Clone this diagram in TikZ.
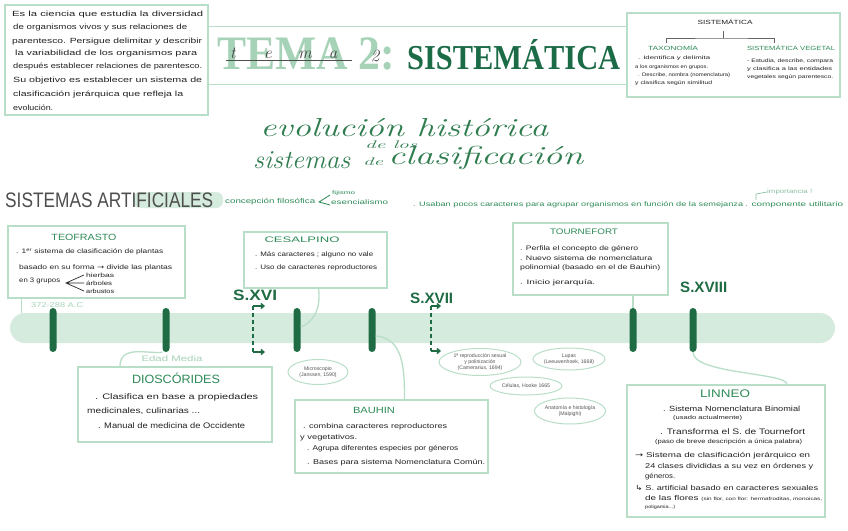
\documentclass[tikz,border=0pt]{standalone}
\usepackage{fontspec}
\usepackage{graphicx}
\setsansfont{Liberation Sans}
\newfontfamily\serifb{Liberation Serif}
\newfontfamily\dejavu{DejaVu Sans}
\usetikzlibrary{shapes.geometric,arrows.meta}
\definecolor{boxc}{HTML}{B9DEC8}
\definecolor{bandc}{HTML}{D5EBDD}
\definecolor{tickc}{HTML}{1F6B43}
\definecolor{headg}{HTML}{2E8B57}
\definecolor{titleg}{HTML}{1B6B47}
\definecolor{paleg}{HTML}{A6D3B8}
\definecolor{cursg}{HTML}{2F7D4F}
\definecolor{ink}{HTML}{222222}
\definecolor{ovtxt}{HTML}{555555}
\newcommand\hwl[3]{\resizebox{#1pt}{\height}{\fontsize{#2}{#2}\selectfont #3}}
\newcounter{lnc}
\newcommand\tline[6][txt]{\stepcounter{lnc}\node[#1] (L\thelnc) at (#2,#3) {\hwl{#4}{#5}{#6}};}
\begin{document}
\begin{tikzpicture}[x=1pt,y=-1pt,
  box/.style={draw=boxc,line width=1.3pt,rectangle,inner sep=0},
  txt/.style={anchor=west,inner sep=0,text=ink,font=\sffamily},
  gtxt/.style={anchor=west,inner sep=0,text=headg,font=\sffamily},
  ptxt/.style={anchor=west,inner sep=0,text=paleg,font=\sffamily},
  head/.style={anchor=center,inner sep=0,text=headg,font=\sffamily},
  cent/.style={anchor=west,inner sep=0,text=tickc,font=\sffamily\bfseries},
  curs/.style={anchor=west,inner sep=0,text=cursg,font=\itshape},
  tick/.style={fill=tickc,rounded corners=3.5pt,minimum width=7pt,minimum height=44pt,inner sep=0},
  conn/.style={draw=boxc,line width=1.3pt},
  oval/.style={ellipse,draw=boxc,line width=1pt,inner sep=0,align=center,text=ovtxt,font=\sffamily\fontsize{5.2}{6}\selectfont},
  dashbr/.style={draw=tickc,line width=1.6pt,dash pattern=on 4pt off 3pt},
  brarr/.style={draw=tickc,line width=1.4pt,-{Straight Barb[length=3pt,width=5pt]}}
]
\useasboundingbox (0,0) rectangle (848,530);
\fill[white] (0,0) rectangle (848,530);

% ---------- intro box
\node[box,minimum width=203pt,minimum height=110pt] (intro) at (106.5,60) {};
\tline{12}{15}{191}{7.5}{Es la ciencia que estudia la diversidad}
\tline{13}{28}{174}{7.5}{de organismos vivos y sus relaciones de}
\tline{12}{42}{190}{7.5}{parentesco. Persigue delimitar y describir}
\tline{15}{54}{182}{7.5}{la variabilidad de los organismos para}
\tline{13}{67}{189}{7.5}{después establecer relaciones de parentesco.}
\tline{13}{81}{189}{7.5}{Su objetivo es establecer un sistema de}
\tline{13}{95}{170}{7.5}{clasificación jerárquica que refleja la}
\tline{13}{108}{40}{7.5}{evolución.}

% ---------- title band
\node[minimum width=419pt,minimum height=57pt,inner sep=0] (tband) at (417.5,55.5) {};
\draw[conn,line width=0.9pt] (tband.north west) -- (tband.north east);
\draw[conn,line width=0.9pt] (tband.south west) -- (tband.south east);
\node[anchor=west,inner sep=0,text=paleg,font=\serifb\bfseries] (tema) at (217,54) {\resizebox{178pt}{\height}{\fontsize{48}{48}\selectfont TEMA 2:}};
\node[anchor=west,inner sep=0,text=titleg,font=\serifb\bfseries] (sistt) at (407,55) {\resizebox{213pt}{\height}{\fontsize{35}{35}\selectfont SISTEMÁTICA}};
\draw[ink!80,line width=0.7pt] (226,60) -- (352,60);
\node[inner sep=0,text=ink!85,font=\itshape\fontsize{17}{17}\selectfont] (hwt) at (233,53) {t};
\node[inner sep=0,text=ink!85,font=\itshape\fontsize{17}{17}\selectfont] (hwe) at (268,55) {e};
\node[inner sep=0,text=ink!85,font=\itshape\fontsize{17}{17}\selectfont] (hwm) at (305,55) {m};
\node[inner sep=0,text=ink!85,font=\itshape\fontsize{17}{17}\selectfont] (hwa) at (333,55) {a};
\node[inner sep=0,text=ink!85,font=\itshape\fontsize{17}{17}\selectfont] (hw2) at (375,56) {2};

% ---------- top right box
\node[box,minimum width=213pt,minimum height=84pt] (sis) at (733.5,55) {};
\node[inner sep=0,text=ink,font=\sffamily] (sish) at (725,22) {\hwl{55}{6}{SISTEMÁTICA}};
\coordinate (brt) at (723,31);
\coordinate (brm) at (723,38);
\coordinate (brl) at (666,43);
\coordinate (brr) at (774,43);
\draw[ink!70,line width=0.6pt] (brt) -- (brm) (brl) |- (brm) -| (brr);
\node[head] (taxo) at (673,48) {\hwl{50}{6}{TAXONOMÍA}};
\node[head] (sveg) at (791,48) {\hwl{88}{6}{SISTEMÁTICA VEGETAL}};
\tline{638}{58}{72}{5}{. Identifica y delimita}
\tline{635}{67}{73}{5}{a los organismos en grupos.}
\tline{638}{75}{92}{5}{. Describe, nombra (nomenclatura)}
\tline{635}{83}{77}{5}{y clasifica según similitud}
\tline{747}{61}{86}{5}{- Estudia, describe, compara}
\tline{747}{69}{85}{5}{y clasifica a las entidades}
\tline{747}{77}{86}{5}{vegetales según parentesco.}

% ---------- cursive title
\tline[curs]{260}{128}{288}{26}{evolución histórica}
\tline[curs]{365}{145}{52}{11}{de los}
\tline[curs]{253}{160}{97}{26}{sistemas}
\tline[curs]{363}{162}{20}{11}{de}
\tline[curs]{388}{158}{195}{26}{clasificación}

% ---------- sistemas artificiales line
\fill[bandc,rounded corners=7pt] (133,192) rectangle (223,208);
\node[anchor=west,inner sep=0,text=ink!80,font=\sffamily] (sart) at (5,200) {\hwl{208}{21}{SISTEMAS ARTIFICIALES}};
\tline[gtxt]{225}{202}{90}{7}{concepción filosófica}
\coordinate (ltip) at (319,202);
\coordinate (lup1) at (330,195);
\coordinate (ldn1) at (330,205);
\draw[headg,line width=0.8pt] (lup1) -- (ltip) -- (ldn1);
\tline[gtxt]{332}{193}{23}{5}{fijismo}
\tline[gtxt]{331}{202}{57}{6.5}{esencialismo}
\tline[gtxt]{413}{205}{330}{6.5}{. Usaban pocos caracteres para agrupar organismos en función de la semejanza}
\tline[gtxt]{745}{205}{98}{6.5}{. componente utilitario}
\node[anchor=west,inner sep=0,text=headg!55,font=\sffamily] (impo) at (767,192) {\hwl{45}{6}{importancia !}};
\coordinate (hk1) at (756,200);
\coordinate (hk2) at (756,194);
\draw[headg!55,line width=0.7pt] (hk1) -- (hk2) -- (impo.west);

% ---------- timeline
\node[fill=bandc,rounded corners=15pt,minimum width=825pt,minimum height=30pt,inner sep=0] (band) at (422.5,328) {};
\foreach \i/\x in {1/53,2/166,3/297,4/372,5/633,6/693} \node[tick] (t\i) at (\x,330) {};

% century labels and dashed brackets
\tline[cent]{233}{295}{44}{15}{S.XVI}
\tline[cent]{410}{298}{43}{15}{S.XVII}
\tline[cent]{680}{287}{47}{15}{S.XVIII}
\coordinate (a1t) at (253,306); \coordinate (a1b) at (253,352);
\coordinate (a2t) at (431,306); \coordinate (a2b) at (431,351);
\draw[dashbr] (a1t) -- (a1b);
\draw[dashbr] (a2t) -- (a2b);
\draw[brarr] (a1t) -- ++(12,0);
\draw[brarr] (a1b) -- ++(12,0);
\draw[brarr] (a2t) -- ++(10,0);
\draw[brarr] (a2b) -- ++(10,0);

% ---------- Teofrasto
\node[box,minimum width=177pt,minimum height=72pt] (teo) at (96.5,262) {};
\node[head] (teoh) at (84,237) {\hwl{65}{9}{TEOFRASTO}};
\tline{16}{252}{147}{6.5}{. 1\textsuperscript{er} sistema de clasificación de plantas}
\tline{19}{268}{153}{6.5}{basado en su forma {\dejavu →} divide las plantas}
\tline{19}{281}{41}{6.5}{en 3 grupos}
\coordinate (gtip) at (66,283);
\coordinate (g1) at (84,275); \coordinate (g2) at (84,283); \coordinate (g3) at (84,291);
\draw[ink,line width=0.7pt] (g1) -- (gtip) -- (g3) (gtip) -- (g2);
\tline{86}{275}{28}{6}{hierbas}
\tline{86}{283}{26}{6}{árboles}
\tline{86}{291}{28}{6}{arbustos}
\tline[ptxt]{31}{305}{52}{7}{372-288 A.C}
\draw[conn] ([xshift=14pt]teo.south west) -- ([xshift=14pt]teo.south west |- band.north);

% ---------- Cesalpino
\node[box,minimum width=143pt,minimum height=56pt] (ces) at (315.5,260) {};
\node[head] (cesh) at (302,240) {\hwl{75}{8}{CESALPINO}};
\tline{255}{255}{118}{6.5}{. Más caracteres ; alguno no vale}
\tline{255}{268}{122}{6.5}{. Uso de caracteres reproductores}
\draw[conn] ([xshift=3pt]ces.south) .. controls +(3,24) and +(10,-4) .. ([yshift=3pt]t3.east);

% ---------- Tournefort
\node[box,minimum width=155pt,minimum height=72pt] (tou) at (590.5,259) {};
\node[head] (touh) at (584,232) {\hwl{68}{8}{TOURNEFORT}};
\tline{520}{249}{118}{6.5}{. Perfila el concepto de género}
\tline{520}{258}{132}{6.5}{. Nuevo sistema de nomenclatura}
\tline{520}{268}{140}{6.5}{polinomial (basado en el de Bauhin)}
\tline{520}{283}{75}{6.5}{. Inicio jerarquía.}
\draw[conn] (t5.north) -- (t5.north |- tou.south);

% ---------- Dioscorides
\node[box,minimum width=194pt,minimum height=75pt] (dio) at (175,404.5) {};
\node[head] (dioh) at (176,378) {\hwl{88}{12}{DIOSCÓRIDES}};
\tline{95}{397}{163}{8}{. Clasifica en base a propiedades}
\tline{87}{411}{113}{8}{medicinales, culinarias ...}
\tline{98}{426}{147}{8}{. Manual de medicina de Occidente}
\node[inner sep=0,text=paleg,font=\sffamily] (edad) at (172,359) {\hwl{61}{8}{Edad Media}};
\draw[conn] ([xshift=-55pt]dio.north) .. controls +(0,-22) and +(-14,2) .. (t2.south west);

% ---------- Bauhin
\node[box,minimum width=193pt,minimum height=73pt] (bau) at (391.5,436.5) {};
\node[head] (bauh) at (374,410) {\hwl{42}{9}{BAUHIN}};
\tline{303}{427}{144}{7}{. combina caracteres reproductores}
\tline{300}{438}{57}{7}{y vegetativos.}
\tline{307}{449}{151}{7}{. Agrupa diferentes especies por géneros}
\tline{307}{463}{178}{7}{. Bases para sistema Nomenclatura Común.}
\draw[conn] ([yshift=-6pt]t4.east) .. controls +(28,2) and +(0,-30) .. ([xshift=13pt]bau.north);

% ---------- ovals
\node[oval,minimum width=60pt,minimum height=25pt] (mic) at (318,372) {Microscopio\\(Janssen, 1590)};
\node[oval,minimum width=82pt,minimum height=27pt] (cam) at (480,362) {1ª reproducción sexual\\y polinización\\(Camerarius, 1694)};
\node[oval,minimum width=72pt,minimum height=22pt] (lup) at (569,359) {Lupas\\(Leeuwenhoek, 1668)};
\node[oval,minimum width=72pt,minimum height=18pt] (cel) at (526,386) {Células, Hooke 1665};
\node[oval,minimum width=64pt,minimum height=26pt] (ana) at (570,411) {Anatomía e histología\\(Malpighi)};

% ---------- Linneo
\node[box,minimum width=198pt,minimum height=132pt] (lin) at (726,451) {};
\node[head] (linh) at (725,394) {\hwl{50}{11}{LINNEO}};
\tline{663}{409}{137}{7.5}{. Sistema Nomenclatura Binomial}
\tline{673}{418}{69}{5.5}{(usado actualmente)}
\tline{660}{432}{145}{8}{. Transforma el S. de Tournefort}
\tline{655}{442}{147}{6}{(paso de breve descripción a única palabra)}
\tline{635}{456}{175}{7}{{\dejavu →} Sistema de clasificación jerárquico en}
\tline{645}{467}{168}{7}{24 clases divididas a su vez en órdenes y}
\tline{645}{477}{30}{7}{géneros.}
\tline{635}{488}{183}{7}{{\dejavu ↳} S. artificial basado en caracteres sexuales}
\tline{645}{498}{177}{7}{de las flores {\fontsize{4.5}{5}\selectfont (sin flor, con flor: hermafroditas, monoicas,}}
\tline{645}{507}{30}{4.5}{poligamia...)}
\draw[conn] (t6.south) .. controls +(0,22) and +(0,-12) .. ([xshift=61pt]lin.north);
\end{tikzpicture}
\end{document}
